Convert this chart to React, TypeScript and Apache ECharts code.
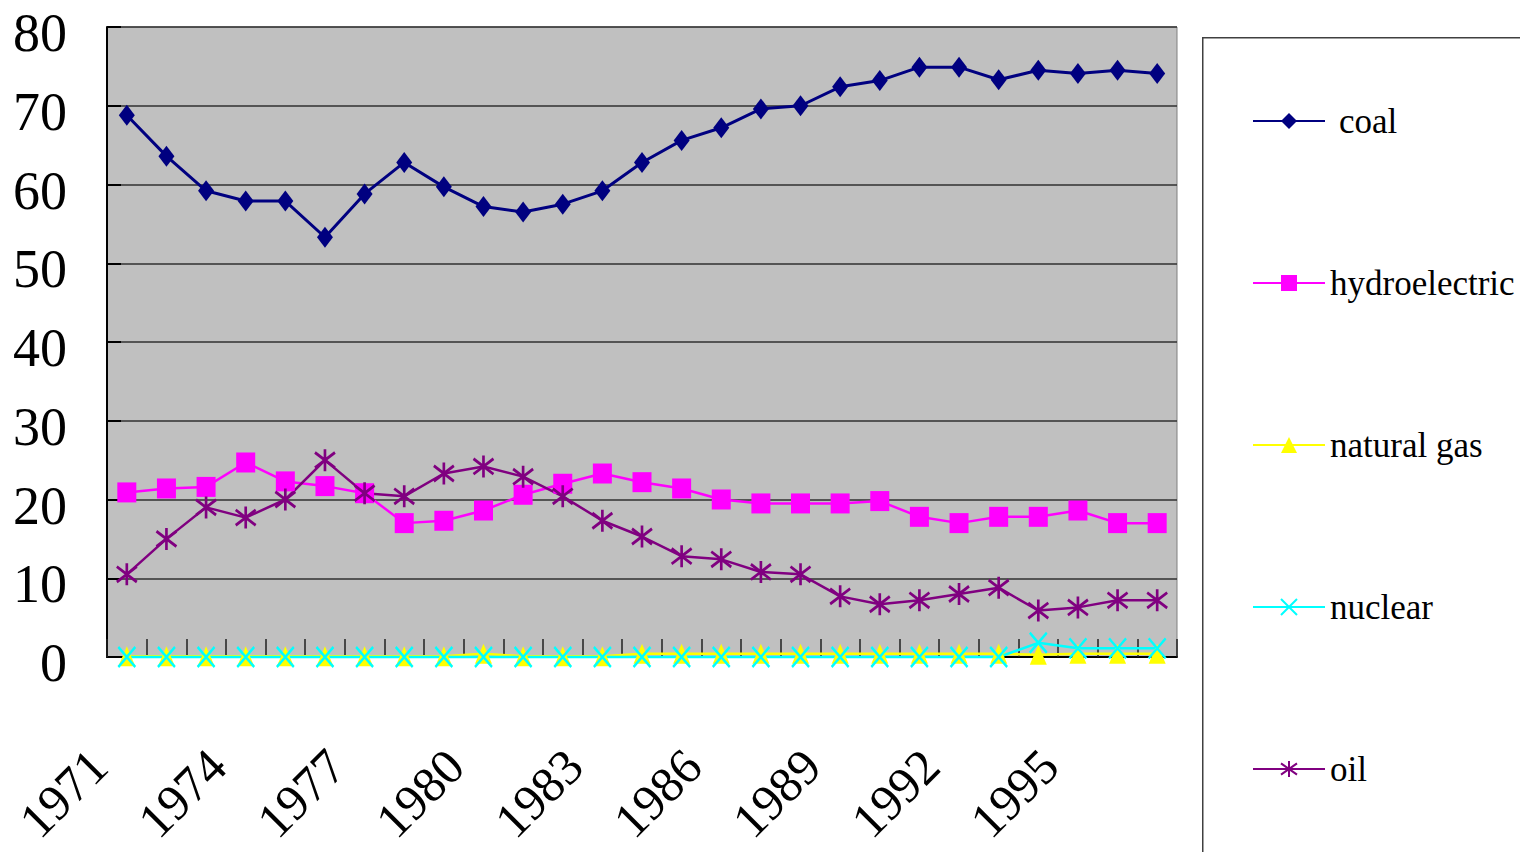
import React, { useEffect, useRef } from "react";
import * as echarts from "echarts";

const years = ["1971","1972","1973","1974","1975","1976","1977","1978","1979","1980","1981","1982","1983","1984","1985","1986","1987","1988","1989","1990","1991","1992","1993","1994","1995","1996","1997"];
const coal = [68.8, 63.6, 59.2, 57.9, 57.9, 53.3, 58.8, 62.8, 59.7, 57.2, 56.5, 57.5, 59.2, 62.8, 65.6, 67.2, 69.6, 70.0, 72.4, 73.2, 74.9, 74.9, 73.3, 74.5, 74.1, 74.5, 74.1];
const hydroelectric = [20.9, 21.4, 21.6, 24.7, 22.3, 21.7, 20.8, 17.0, 17.3, 18.6, 20.6, 22.0, 23.3, 22.2, 21.4, 20.0, 19.5, 19.5, 19.5, 19.8, 17.8, 17.0, 17.8, 17.8, 18.6, 17.0, 17.0];
const naturalGas = [0.1, 0.1, 0.1, 0.1, 0.1, 0.1, 0.1, 0.1, 0.1, 0.4, 0.1, 0.1, 0.1, 0.4, 0.4, 0.4, 0.4, 0.4, 0.4, 0.4, 0.4, 0.4, 0.4, 0.3, 0.4, 0.4, 0.4];
const nuclear = [0, 0, 0, 0, 0, 0, 0, 0, 0, 0, 0, 0, 0, 0, 0, 0, 0, 0, 0, 0, 0, 0, 0, 1.8, 1.1, 1.1, 1.1];
const oil = [10.5, 15.0, 19.0, 17.7, 20.0, 25.0, 20.8, 20.4, 23.3, 24.2, 22.9, 20.4, 17.3, 15.3, 12.8, 12.4, 10.8, 10.5, 7.7, 6.7, 7.2, 8.0, 8.8, 5.9, 6.3, 7.2, 7.2];

const FONT = "'Liberation Serif', 'Times New Roman', serif";
const ASTERISK = "path://M10,0 L10,20 M0,3 L20,17 M0,17 L20,3";
const CROSS = "path://M0,0 L20,20 M0,20 L20,0";

export default function App() {
  const ref = useRef<HTMLDivElement>(null);
  useEffect(() => {
    if (!ref.current) return;
    const chart = echarts.init(ref.current, null, { renderer: "svg" });
    chart.setOption({
      animation: false,
      backgroundColor: "#ffffff",
      grid: {
        left: 107,
        top: 27,
        width: 1070,
        height: 630,
        outerBoundsMode: "none",
        containLabel: false,
        show: true,
        backgroundColor: "#C0C0C0",
        borderColor: "#808080",
        borderWidth: 1,
      },
      graphic: [
        {
          type: "rect",
          left: 1202,
          top: 37,
          shape: { width: 400, height: 900 },
          style: { fill: "transparent", stroke: "#404040", lineWidth: 1.5 },
          z: 0,
        },
      ],
      legend: {
        orient: "vertical",
        left: 1252,
        top: 101,
        padding: 0,
        itemWidth: 72,
        itemHeight: 20,
        itemGap: 122,
        lineStyle: { width: 2 },
        formatter: (name: string) => (name === "coal" ? "{c|" + name + "}" : name),
        textStyle: {
          fontFamily: FONT,
          fontSize: 35,
          color: "#000",
          lineHeight: 40,
          rich: {
            c: { fontFamily: FONT, fontSize: 35, color: "#000", lineHeight: 40, padding: [0, 0, 0, 9] },
          },
        },
        data: ["coal", "hydroelectric", "natural gas", "nuclear", "oil"],
      },
      xAxis: {
        type: "category",
        data: years,
        boundaryGap: true,
        axisLine: { show: true, lineStyle: { color: "#000", width: 2 } },
        axisTick: { show: true, inside: true, length: 18, interval: 0, lineStyle: { color: "#202020", width: 1.5 } },
        axisLabel: {
          interval: 2,
          rotate: 45,
          margin: 98,
          verticalAlign: "bottom",
          lineHeight: 36,
          padding: [0, 22, 0, 0],
          fontFamily: FONT,
          fontSize: 50,
          color: "#000",
        },
        splitLine: { show: false },
      },
      yAxis: {
        type: "value",
        min: 0,
        max: 80,
        interval: 10,
        axisLine: { show: true, lineStyle: { color: "#000", width: 2 } },
        axisTick: { show: true, inside: true, length: 14, lineStyle: { color: "#000", width: 2 } },
        axisLabel: {
          margin: 40,
          verticalAlign: "top",
          lineHeight: 12,
          fontFamily: FONT,
          fontSize: 54,
          color: "#000",
        },
        splitLine: { show: true, lineStyle: { color: "#303030", width: 1.5 } },
      },
      series: [
        {
          name: "coal",
          type: "line",
          data: coal,
          clip: false,
          symbol: "diamond",
          symbolSize: [16, 21],
          lineStyle: { color: "#000080", width: 3 },
          itemStyle: { color: "#000080" },
        },
        {
          name: "hydroelectric",
          type: "line",
          data: hydroelectric,
          clip: false,
          symbol: "rect",
          symbolSize: [19, 20],
          lineStyle: { color: "#FF00FF", width: 2.5 },
          itemStyle: { color: "#FF00FF" },
        },
        {
          name: "natural gas",
          type: "line",
          data: naturalGas,
          clip: false,
          symbol: "triangle",
          symbolSize: [17, 20],
          lineStyle: { color: "#FFFF00", width: 2.5 },
          itemStyle: { color: "#FFFF00" },
        },
        {
          name: "nuclear",
          type: "line",
          data: nuclear,
          clip: false,
          symbol: CROSS,
          symbolSize: [17, 20],
          lineStyle: { color: "#00FFFF", width: 2.5 },
          itemStyle: { color: "#00FFFF", borderColor: "#00FFFF", borderWidth: 2.5 },
        },
        {
          name: "oil",
          type: "line",
          data: oil,
          clip: false,
          symbol: ASTERISK,
          symbolSize: [20, 22],
          lineStyle: { color: "#800080", width: 2.5 },
          itemStyle: { color: "#800080", borderColor: "#800080", borderWidth: 2.8 },
        },
      ],
    });
    return () => chart.dispose();
  }, []);
  return (
    <div
      ref={ref}
      style={{ position: "fixed", left: 0, top: 0, width: 1520, height: 852, background: "#fff" }}
    />
  );
}
